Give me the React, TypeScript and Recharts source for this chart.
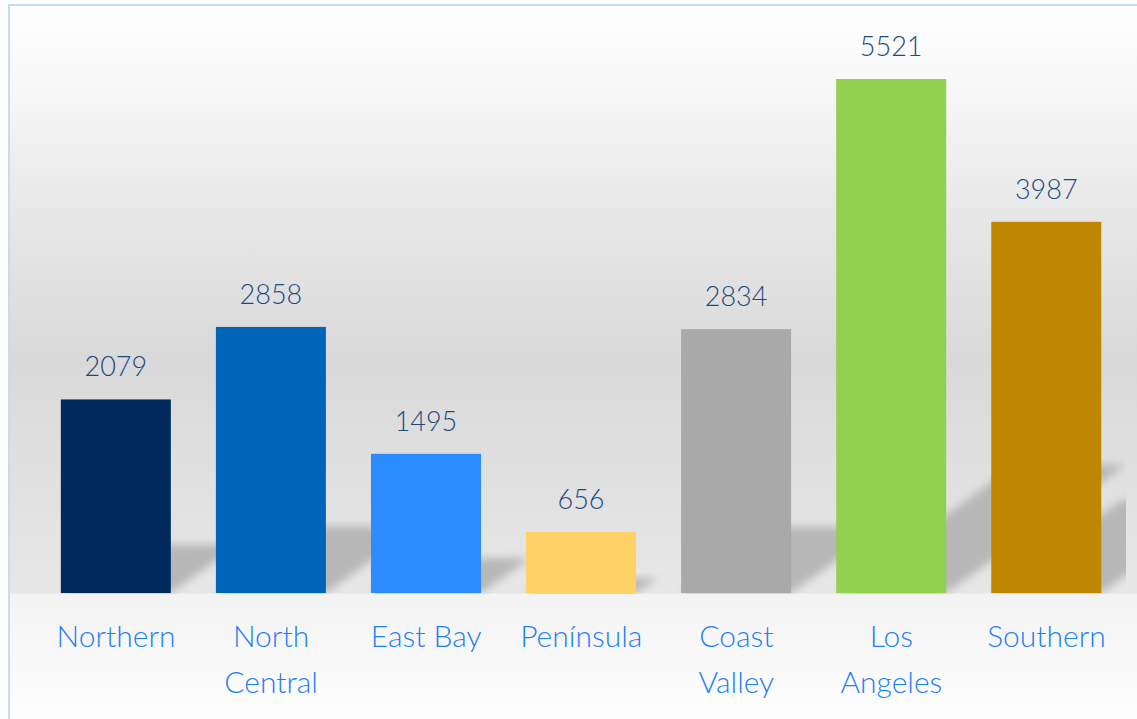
import React from 'react';
import { BarChart, Bar, XAxis, YAxis, Cell, LabelList } from 'recharts';

// regions, in the order shown; '\n' marks where the tick label wraps
const regions = ['Northern', 'North\nCentral', 'East Bay', 'Península', 'Coast\nValley', 'Los\nAngeles', 'Southern'];
const counts = [2079, 2858, 1495, 656, 2834, 5521, 3987];
const barColors = ['#002a5e', '#0064b8', '#2b8cff', '#ffd166', '#a9a9a9', '#92d050', '#bf8600'];
const yDomain = [0, 6000];

const data = regions.map((region, i) => ({ region, count: counts[i] }));

const SHADOW_RIGHT = 1116;

const ShadowBar = (props: any) => {
  const { x, y, width, height, index } = props;
  const fill = props.fill || barColors[index];
  const base = y + height;
  const rise = height * 0.25;
  const shift = height * 0.35;
  const pts = `${x},${base} ${x + width},${base} ${x + width + shift},${base - rise} ${x + shift},${base - rise}`;
  return (
    <g>
      <defs>
        <filter id={`shadow-blur-${index}`} x="-30%" y="-30%" width="160%" height="160%">
          <feGaussianBlur stdDeviation={4} />
        </filter>
        <clipPath id={`shadow-clip-${index}`}>
          <rect x={0} y={0} width={SHADOW_RIGHT} height={base + 1} />
        </clipPath>
      </defs>
      <g clipPath={`url(#shadow-clip-${index})`}>
        <polygon points={pts} fill="#b7b7b7" filter={`url(#shadow-blur-${index})`} />
      </g>
      <rect x={x} y={y} width={width} height={height} fill={fill} />
    </g>
  );
};

const RegionTick = (props: any) => {
  const { x, y, payload } = props;
  const lines = String(payload.value).split('\n');
  return (
    <text x={x} y={y} textAnchor="middle" fill="#1f7ff5" fontSize={30} fontWeight={300} fontFamily="Lato">
      {lines.map((line, i) => (
        <tspan key={i} x={x} dy={i === 0 ? 54 : 45.5}>
          {line}
        </tspan>
      ))}
    </text>
  );
};

export default function App() {
  return (
    <div
      style={{
        position: 'absolute',
        left: 8,
        top: 4,
        width: 1127,
        height: 713,
        borderTop: '2px solid #c5dcf9',
        borderLeft: '2px solid #c5dcf9',
        background:
          'linear-gradient(to bottom, #ffffff 0px, #f6f6f6 94px, #e9e9e9 194px, #d9d9d9 354px, #e1e1e1 480px, #e7e7e7 587px, #f3f3f3 588px, #fefefe 713px)',
      }}
    >
      <BarChart
        width={1127}
        height={713}
        data={data}
        margin={{ top: 28.4, right: 13, left: 28.5, bottom: 26 }}
        barCategoryGap="14.4%"
        style={{ fontFamily: 'Lato' }}
      >
        <XAxis
          dataKey="region"
          height={100}
          axisLine={false}
          tickLine={false}
          tickSize={0}
          tickMargin={0}
          interval={0}
          tick={<RegionTick />}
        />
        <YAxis hide domain={yDomain} />
        <Bar dataKey="count" isAnimationActive={false} shape={<ShadowBar />}>
          {data.map((d, i) => (
            <Cell key={d.region} fill={barColors[i]} />
          ))}
          <LabelList
            dataKey="count"
            position="top"
            offset={23}
            fill="#1f4a7e"
            fontSize={27}
            fontWeight={300}
            fontFamily="Lato"
          />
        </Bar>
      </BarChart>
    </div>
  );
}
